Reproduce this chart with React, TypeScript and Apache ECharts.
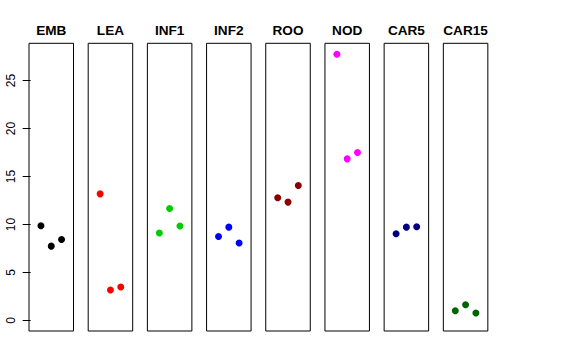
import React, { useEffect, useRef } from "react";
import * as echarts from "echarts";

const categories = ["EMB", "LEA", "INF1", "INF2", "ROO", "NOD", "CAR5", "CAR15"];
const colors = ["#000000", "#FF0000", "#00CD00", "#0000FF", "#8B0000", "#FF00FF", "#000080", "#006400"];
const xPositions = [1, 2, 3];
const valuesEMB = [9.86, 7.74, 8.44];
const valuesLEA = [13.19, 3.16, 3.47];
const valuesINF1 = [9.1, 11.67, 9.83];
const valuesINF2 = [8.75, 9.72, 8.06];
const valuesROO = [12.78, 12.33, 14.06];
const valuesNOD = [27.74, 16.84, 17.5];
const valuesCAR5 = [9.03, 9.72, 9.76];
const valuesCAR15 = [1.01, 1.63, 0.76];
const allValues = [valuesEMB, valuesLEA, valuesINF1, valuesINF2, valuesROO, valuesNOD, valuesCAR5, valuesCAR15];
const yTicks = [0, 5, 10, 15, 20, 25];

export default function App() {
  const ref = useRef<HTMLDivElement>(null);
  useEffect(() => {
    if (!ref.current) return;
    const chart = echarts.init(ref.current, null, { renderer: "svg" });
    const left0 = 29;
    const step = 59.19;
    const w = 44.5;
    const top = 43.3;
    const h = 287.7;
    const grids: any[] = [];
    const xAxes: any[] = [];
    const yAxes: any[] = [];
    const series: any[] = [];
    const graphics: any[] = [];
    categories.forEach((c, i) => {
      const left = left0 + i * step;
      grids.push({
        left, top, width: w, height: h,
        show: true, borderColor: "#000", borderWidth: 1, backgroundColor: "transparent",
      });
      xAxes.push({
        type: "value", gridIndex: i, min: -0.16, max: 4.16,
        show: false,
      });
      yAxes.push({
        type: "value", gridIndex: i, min: -1.11, max: 28.89,
        show: i === 0,
        splitLine: { show: false },
        axisLine: { show: false },
        axisTick: { show: true, length: 8, lineStyle: { color: "#000" }, customValues: yTicks },
        axisLabel: {
          show: true, rotate: 90, margin: 12, color: "#000", fontSize: 12,
          fontFamily: "Liberation Sans", customValues: yTicks,
        },
      });
      series.push({
        type: "scatter", xAxisIndex: i, yAxisIndex: i,
        symbolSize: 7,
        itemStyle: { color: colors[i], opacity: 1 },
        data: xPositions.map((x, j) => [x, allValues[i][j]]),
      });
      graphics.push({
        type: "text", x: left + w / 2, y: 30,
        style: {
          text: c, fill: "#000", font: "bold 13.6px 'Liberation Sans'",
          textAlign: "center", textVerticalAlign: "middle",
        },
      });
    });
    chart.setOption({
      animation: false,
      backgroundColor: "#fff",
      grid: grids,
      xAxis: xAxes,
      yAxis: yAxes,
      series,
      graphic: graphics,
    });
    return () => chart.dispose();
  }, []);
  return <div ref={ref} style={{ width: 576, height: 360, position: "absolute", left: 0, top: 0 }} />;
}
